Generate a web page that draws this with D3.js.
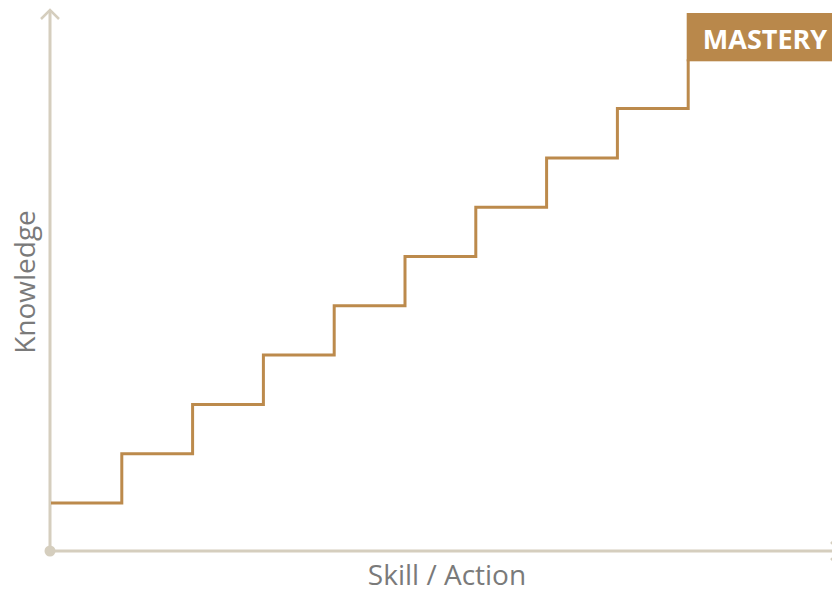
<!DOCTYPE html>
<html><head><meta charset="utf-8">
<script src="https://cdn.jsdelivr.net/npm/d3@7"></script>
<style>body{margin:0;background:#fff}svg{display:block}</style>
</head><body><svg id="c" width="832" height="592"></svg>
<script>
const skill = [0,1,2,3,4,5,6,7,8,9];
const knowledge = [1,2,3,4,5,6,7,8,9,10];
const xLabel = "Skill / Action";
const yLabel = "Knowledge";
const badge = "MASTERY";

const svg = d3.select("#c");
const axisColor = "#D5CEBE", stepColor = "#BC8A4C";
const x = d3.scaleLinear().domain([0,9]).range([51,688.2]);
const y = d3.scaleLinear().domain([0,10]).range([552.3,59.3]);

// axes
svg.append("line").attr("x1",50).attr("y1",551).attr("x2",50).attr("y2",11)
  .attr("stroke",axisColor).attr("stroke-width",3);
svg.append("path").attr("d","M41,19 L50,10 L59,19").attr("fill","none")
  .attr("stroke",axisColor).attr("stroke-width",2.5);
svg.append("line").attr("x1",50).attr("y1",551).attr("x2",845).attr("y2",551)
  .attr("stroke",axisColor).attr("stroke-width",3);
svg.append("path").attr("d","M831,542 L840,551 L831,560").attr("fill","none")
  .attr("stroke",axisColor).attr("stroke-width",2.5);
svg.append("circle").attr("cx",50).attr("cy",551).attr("r",5.5).attr("fill",axisColor);

// steps
const line = d3.line().curve(d3.curveStepAfter);
const data = skill.map((s,i)=>[x(s), y(knowledge[i])]);
svg.append("path").attr("d", line(data)).attr("fill","none")
  .attr("stroke",stepColor).attr("stroke-width",3);

// badge
const bx = x(9)-1.5, by = 13;
svg.append("rect").attr("x",bx).attr("y",by).attr("width",832-bx+5).attr("height",y(10)-by+2)
  .attr("fill","#B9884B");
svg.append("text").attr("x",765).attr("y",49).attr("text-anchor","middle")
  .attr("font-family","'Open Sans', sans-serif").attr("font-weight","bold")
  .attr("font-size",27).attr("fill","#fff").text(badge);

// labels
svg.append("text").attr("x",447).attr("y",585).attr("text-anchor","middle")
  .attr("font-family","'Open Sans', sans-serif").attr("font-size",28)
  .attr("fill","#7a7a7a").text(xLabel);
svg.append("text").attr("transform","translate(35,282) rotate(-90)").attr("text-anchor","middle")
  .attr("font-family","'Open Sans', sans-serif").attr("font-size",28)
  .attr("fill","#7a7a7a").text(yLabel);
</script></body></html>
